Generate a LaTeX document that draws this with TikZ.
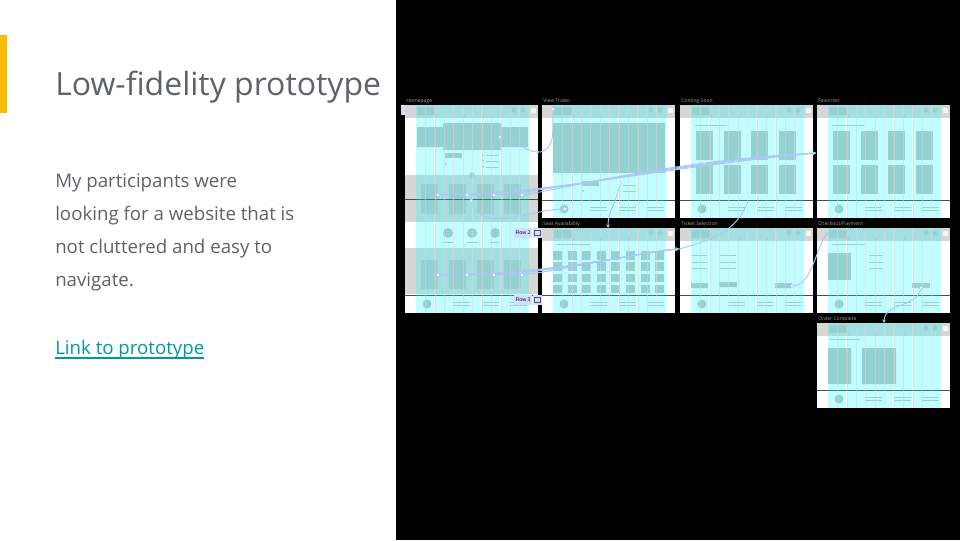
\documentclass[tikz,border=0pt]{standalone}
\usepackage{fontspec}
\setmainfont{Open Sans}
\usetikzlibrary{positioning,arrows.meta}

\definecolor{slidegray}{RGB}{95,99,104}
\definecolor{accent}{RGB}{251,188,4}
\definecolor{linkteal}{RGB}{0,151,167}
\definecolor{wfgray}{RGB}{214,214,214}
\definecolor{wfdark}{RGB}{196,196,196}
\definecolor{gridc}{RGB}{0,255,255}
\definecolor{gutter}{RGB}{226,206,216}
\definecolor{flowblue}{RGB}{170,200,245}
\definecolor{tagblue}{RGB}{205,222,255}

% one wireframe screen: x, y, height, label
\newcommand{\wfscreen}[4]{%
  \begin{scope}[shift={(#1,#2)}]
    \fill[white] (0,0) rectangle (133,#3);
    \fill[wfgray] (0,0) rectangle (133,13);
    \fill[wfdark] (12,2) rectangle (30,10);
    \fill[wfdark] (109,5) circle (2.5) (118,5) circle (2.5);
    \fill[white!92!gray] (126,3) rectangle (131,8);
    \foreach \d in {31,59,87} \fill[gray] (\d,11) circle (0.7);
    \draw[gray!60!black, line width=0.6pt] (0,#3-18) -- (133,#3-18);
    \fill[wfdark] (22,#3-9) circle (4.5);
    \foreach \t in {48,77,105}
      \draw[wfdark, line width=0.5pt] (\t,#3-11) -- ++(17,0) (\t,#3-8) -- ++(17,0);
    \node[wflabel] at (1,-3) {#4};
  \end{scope}}

% column grid laid over a screen
\newcommand{\wfgrid}[3]{%
  \begin{scope}[shift={(#1,#2)}]
    \foreach \i in {0,...,11}
      \fill[gridcyan] ({11+\i*9.42},0) rectangle ++(8.9,#3);
    \foreach \i in {1,...,11}
      \draw[gutter, line width=0.3pt, opacity=0.6] ({10.95+\i*9.42},0) -- ++(0,#3);
  \end{scope}}

\begin{document}
\begin{tikzpicture}[
    x=0.75pt, y=-0.75pt,
    wflabel/.style={anchor=base west, inner sep=0, text=gray!75,
                    font=\fontsize{3.8}{4}\selectfont},
    gridcyan/.style={fill=gridc, fill opacity=0.25},
    box/.style={fill=wfdark},
    txt/.style={draw=wfdark, line width=0.5pt},
    proto/.style={draw=flowblue, line width=0.7pt},
    tip/.style={-{Stealth[length=2.6pt,width=2.6pt]}},
    hot/.style={fill=white, draw=flowblue, line width=0.4pt},
    flowtag/.style={fill=tagblue, inner sep=1.2pt, minimum height=7pt,
                    font=\fontsize{3.8}{4}\selectfont},
    bodytext/.style={anchor=base west, inner sep=0, text=slidegray,
                     font=\fontsize{14}{16}\selectfont},
  ]
  \useasboundingbox (0,0) rectangle (960,540);
  \fill[white] (0,0) rectangle (396,540);
  \fill[black] (396,0) rectangle (960,540);
  \fill[accent] (0,35) rectangle (7,113);

  % slide text
  \node[anchor=base west, inner sep=0, text=slidegray,
        font=\fontsize{24}{28}\selectfont] (title) at (55,95) {Low-fidelity prototype};
  \node[bodytext] (body1) at (55,187) {My participants were};
  \node[bodytext] (body2) at (55,220) {looking for a website that is};
  \node[bodytext] (body3) at (55,253) {not cluttered and easy to};
  \node[bodytext] (body4) at (55,286) {navigate.};
  \node[bodytext, text=linkteal] (link) at (55,354) {Link to prototype};
  \draw[linkteal, line width=0.9pt] ([yshift=-3pt]link.base west) -- ([yshift=-3pt]link.base east);

  % screens
  \wfscreen{405}{105}{208}{Homepage}
  \wfscreen{542}{105}{113}{View Trailer}
  \wfscreen{680}{105}{113}{Coming Soon}
  \wfscreen{817}{105}{113}{Favorites}
  \wfscreen{542}{228}{85}{Seat Availability}
  \wfscreen{680}{228}{85}{Ticket Selection}
  \wfscreen{817}{228}{85}{Checkout/Payment}
  \wfscreen{817}{323}{85}{Order Complete}

  % homepage content
  \fill[box] (417,127) rectangle (528,147) (443,123) rectangle (501,150);
  \fill[box] (445,153) rectangle (462,158);
  \fill[box] (446,164) circle (1.2);
  \foreach \r in {155,161,167} {
    \fill[box] (483,\r) circle (1.2);
    \draw[txt] (486,\r) -- (499,\r);
  }
  \fill[wfgray] (405,175) rectangle (538,222);
  \fill[box] (472,175) circle (2.7);
  \fill[wfgray] (405,248) rectangle (538,294);
  \foreach \c in {421,449,477,504} {
    \fill[box] (\c,184) rectangle ++(17,30);
    \fill[box] (\c,260) rectangle ++(17,29);
  }
  \foreach \c in {448,472,495} {
    \fill[box] (\c,233) circle (5);
    \draw[txt, line width=0.3pt] (\c-5,242) -- (\c+5,242);
  }
  \draw[gray!60!black, line width=0.6pt] (405,199) -- (538,199);
  \fill[tagblue] (401,105) rectangle (405,115);

  % view trailer
  \fill[box] (553,123) rectangle (665,173);
  \fill[box] (582,181) rectangle (599,186);
  \fill[box] (583,191) circle (1.2);
  \foreach \r in {185,191} \draw[txt] (623,\r) -- (636,\r);

  % coming soon and favorites
  \foreach \s in {680,817} {
    \draw[txt] (\s+15,125) -- (\s+47,125);
    \foreach \k in {0,1,2,3} {
      \fill[box] (\s+16+\k*27.7,131) rectangle ++(17,29);
      \fill[box] (\s+16+\k*27.7,165) rectangle ++(17,29);
    }
  }

  % seat availability
  \draw[txt] (557,244) -- (590,244);
  \foreach \i in {0,...,7}
    \foreach \j in {0,...,3}
      \fill[box] (553+\i*14.6,251+\j*11.3) rectangle ++(9,8.5);

  % ticket selection
  \foreach \r in {255,262,268} \draw[txt] (692,\r) -- (707,\r) (720,\r) -- (736,\r);
  \fill[box] (691,283) rectangle (708,288) (719,282) rectangle (737,287)
             (775,283) rectangle (792,288);

  % checkout / payment
  \draw[txt] (832,244) -- (865,244);
  \fill[box] (828,253) rectangle (851,280);
  \foreach \r in {255,262,268} \draw[txt] (869,\r) -- (883,\r);
  \fill[box] (912,283) rectangle (930,288);

  % order complete
  \draw[txt] (829,339) -- (860,339);
  \fill[box] (828,348) rectangle (851,384) (862,348) rectangle (896,384);

  % column grids
  \wfgrid{405}{105}{208}
  \wfgrid{542}{105}{113}
  \wfgrid{680}{105}{113}
  \wfgrid{817}{105}{113}
  \wfgrid{542}{228}{85}
  \wfgrid{680}{228}{85}
  \wfgrid{817}{228}{85}
  \wfgrid{817}{323}{85}

  % hotspots and targets
  \coordinate (hpHero) at (500,137);
  \coordinate (vtIn) at (540,152);
  \coordinate (vtLogo) at (553,109);
  \coordinate (hpMid) at (471,201);
  \coordinate (vtFoot) at (565,209);
  \coordinate (vtDot) at (620,184);
  \coordinate (saIn) at (608,228);
  \coordinate (favIn) at (816,153);
  \coordinate (csFoot) at (748,201);
  \coordinate (tsIn) at (679,249);
  \coordinate (tsBtn) at (792,286);
  \coordinate (cpLogo) at (828,232);
  \coordinate (cpBtn) at (921,288);
  \coordinate (ocIn) at (884,323);
  \foreach \c [count=\i] in {438,467,494,522} {
    \coordinate (hpC\i) at (\c,195);
    \coordinate (hpD\i) at (\c,275);
  }

  % prototype connections
  \draw[proto, tip] (hpHero) to[out=0, in=180] (vtIn);
  \draw[proto] (vtLogo) to[out=-95, in=10] (vtIn);
  \foreach \i in {1,...,4}
    \draw[proto, tip] (hpC\i) .. controls (560,{194-\i}) and ({640+8*\i},{172-3*\i}) .. (favIn);
  \draw[proto] (hpMid) to[out=-70, in=180] (vtFoot);
  \draw[proto, tip] (vtDot) to[out=-100, in=90] (saIn);
  \draw[proto] (csFoot) to[out=-110, in=15] (tsIn);
  \foreach \i in {1,...,4}
    \draw[proto, tip] (hpD\i) .. controls (565,{274-\i}) and ({630+5*\i},{254-\i}) .. (tsIn);
  \draw[proto, tip] (tsBtn) .. controls (812,286) and (815,250) .. (cpLogo);
  \draw[proto, tip] (cpBtn) to[out=-100, in=90] (ocIn);

  \foreach \h in {hpHero,vtLogo,hpMid,vtFoot,vtDot,tsBtn,cpBtn,hpC1,hpC2,hpC3,hpC4,hpD1,hpD2,hpD3,hpD4}
    \fill[hot] (\h) circle (1.8);

  % flow starting points
  \node[flowtag] (flowB) at (523,233) {Flow 2};
  \node[flowtag, right=0pt of flowB, minimum width=7pt] (flowBi) {};
  \draw[gray!70!black, line width=0.3pt] ([xshift=-2pt,yshift=-2pt]flowBi.center) rectangle ([xshift=2pt,yshift=2pt]flowBi.center);
  \node[flowtag] (flowC) at (523,300) {Flow 3};
  \node[flowtag, right=0pt of flowC, minimum width=7pt] (flowCi) {};
  \draw[gray!70!black, line width=0.3pt] ([xshift=-2pt,yshift=-2pt]flowCi.center) rectangle ([xshift=2pt,yshift=2pt]flowCi.center);
\end{tikzpicture}
\end{document}
